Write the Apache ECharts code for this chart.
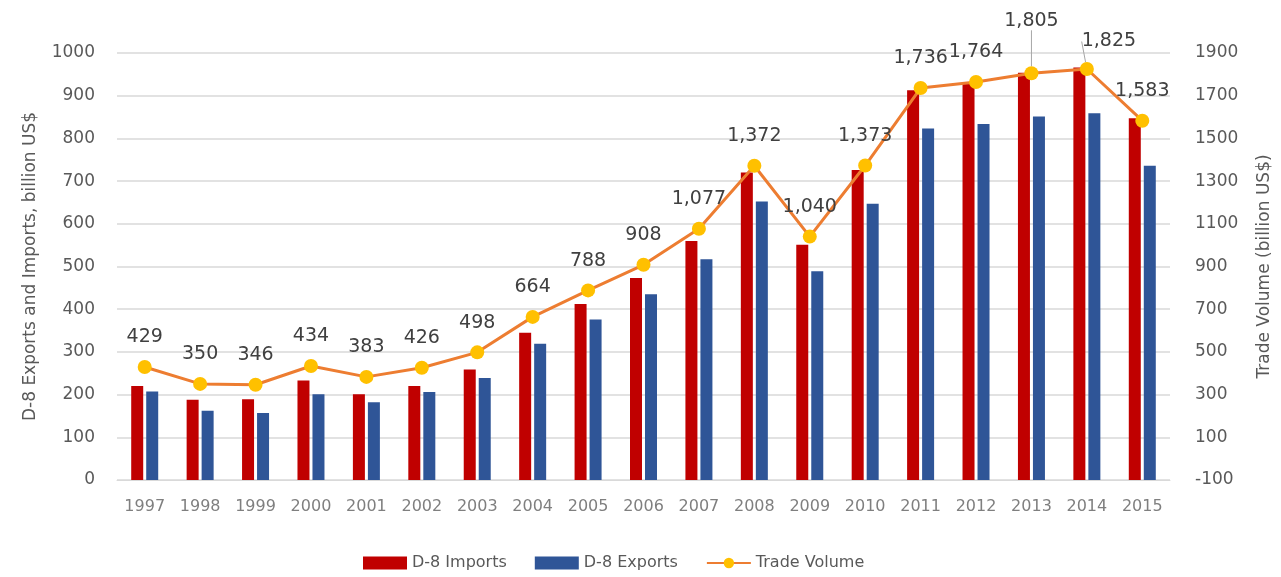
<!DOCTYPE html>
<html>
<head>
<meta charset="utf-8">
<script src="https://cdn.jsdelivr.net/npm/echarts@6/dist/echarts.min.js"></script>
<style>
html,body{margin:0;padding:0;background:#fff;}
#chart{width:1281px;height:577px;}
</style>
</head>
<body>
<div id="chart"></div>
<script>
const years = ['1997','1998','1999','2000','2001','2002','2003','2004','2005','2006','2007','2008','2009','2010','2011','2012','2013','2014','2015'];
const imports = [220, 188, 189, 233, 201, 220, 259, 345, 412, 473, 560, 720, 551, 726, 913, 930, 954, 966, 847];
const exports = [207, 162, 157, 201, 182, 206, 239, 319, 376, 435, 517, 652, 489, 647, 823, 834, 851, 859, 736];
const tradeVolume = [429, 350, 346, 434, 383, 426, 498, 664, 788, 908, 1077, 1372, 1040, 1373, 1736, 1764, 1805, 1825, 1583];
const leftTicks = [0, 1000, 100];
const rightTicks = [-100, 1900, 200];

const FONT = 'DejaVu Sans';
const chart = echarts.init(document.getElementById('chart'), null, {renderer: 'canvas'});

const labelMoves = {16: {dy: -23}, 17: {dx: 22, dy: 2}};
const lineData = tradeVolume.map((v, i) => labelMoves[i]
  ? {value: v, labelLine: {show: true, lineStyle: {color: '#A6A6A6', width: 1}}}
  : {value: v, labelLine: {show: false}});

chart.setOption({
  animation: false,
  textStyle: {fontFamily: FONT},
  grid: {left: 117, right: 108, top: 53, bottom: 97},
  legend: {
    left: 358, top: 550,
    itemWidth: 44, itemHeight: 13, itemGap: 28,
    textStyle: {fontFamily: FONT, fontSize: 16, color: '#595959'},
    data: [
      {name: 'D-8 Imports', icon: 'rect'},
      {name: 'D-8 Exports', icon: 'rect'},
      {name: 'Trade Volume'}
    ]
  },
  xAxis: {
    type: 'category', data: years,
    axisLine: {show: true, lineStyle: {color: '#D9D9D9', width: 1}},
    axisTick: {show: false},
    axisLabel: {color: '#7f7f7f', fontSize: 16, fontFamily: FONT, margin: 19}
  },
  yAxis: [
    {
      type: 'value', min: leftTicks[0], max: leftTicks[1], interval: leftTicks[2],
      name: 'D-8 Exports and Imports, billion US$',
      nameLocation: 'middle', nameGap: 78, nameRotate: 90,
      nameTextStyle: {fontSize: 17, color: '#595959', fontFamily: FONT},
      axisLine: {show: false}, axisTick: {show: false},
      axisLabel: {color: '#595959', fontSize: 17, fontFamily: FONT, margin: 22, formatter: v => String(v)},
      splitLine: {lineStyle: {color: '#D9D9D9', width: 1.5}}
    },
    {
      type: 'value', min: rightTicks[0], max: rightTicks[1], interval: rightTicks[2] / 2,
      name: 'Trade Volume (billion US$)',
      nameLocation: 'middle', nameGap: 86, nameRotate: 90,
      nameTextStyle: {fontSize: 17, color: '#595959', fontFamily: FONT},
      axisLine: {show: false}, axisTick: {show: false},
      axisLabel: {
        color: '#595959', fontSize: 17, fontFamily: FONT, margin: 25,
        formatter: v => ((v - rightTicks[0]) % rightTicks[2] === 0 ? String(v) : '')
      },
      splitLine: {show: false}
    }
  ],
  series: [
    {
      name: 'D-8 Imports', type: 'bar', yAxisIndex: 0, data: imports,
      barWidth: 12, barGap: '25%',
      itemStyle: {color: '#C00000'}
    },
    {
      name: 'D-8 Exports', type: 'bar', yAxisIndex: 0, data: exports,
      barWidth: 12,
      itemStyle: {color: '#2F5597'}
    },
    {
      name: 'Trade Volume', type: 'line', yAxisIndex: 1, data: lineData,
      symbol: 'circle', symbolSize: 14,
      lineStyle: {color: '#ED7D31', width: 3},
      itemStyle: {color: '#FFC000'},
      label: {
        show: true, position: 'top', distance: 13,
        fontSize: 19, color: '#404040', fontFamily: FONT,
        formatter: p => p.value.toLocaleString('en-US')
      },
      labelLayout: p => labelMoves[p.dataIndex] || {},
      z: 5
    }
  ]
});
</script>
</body>
</html>
